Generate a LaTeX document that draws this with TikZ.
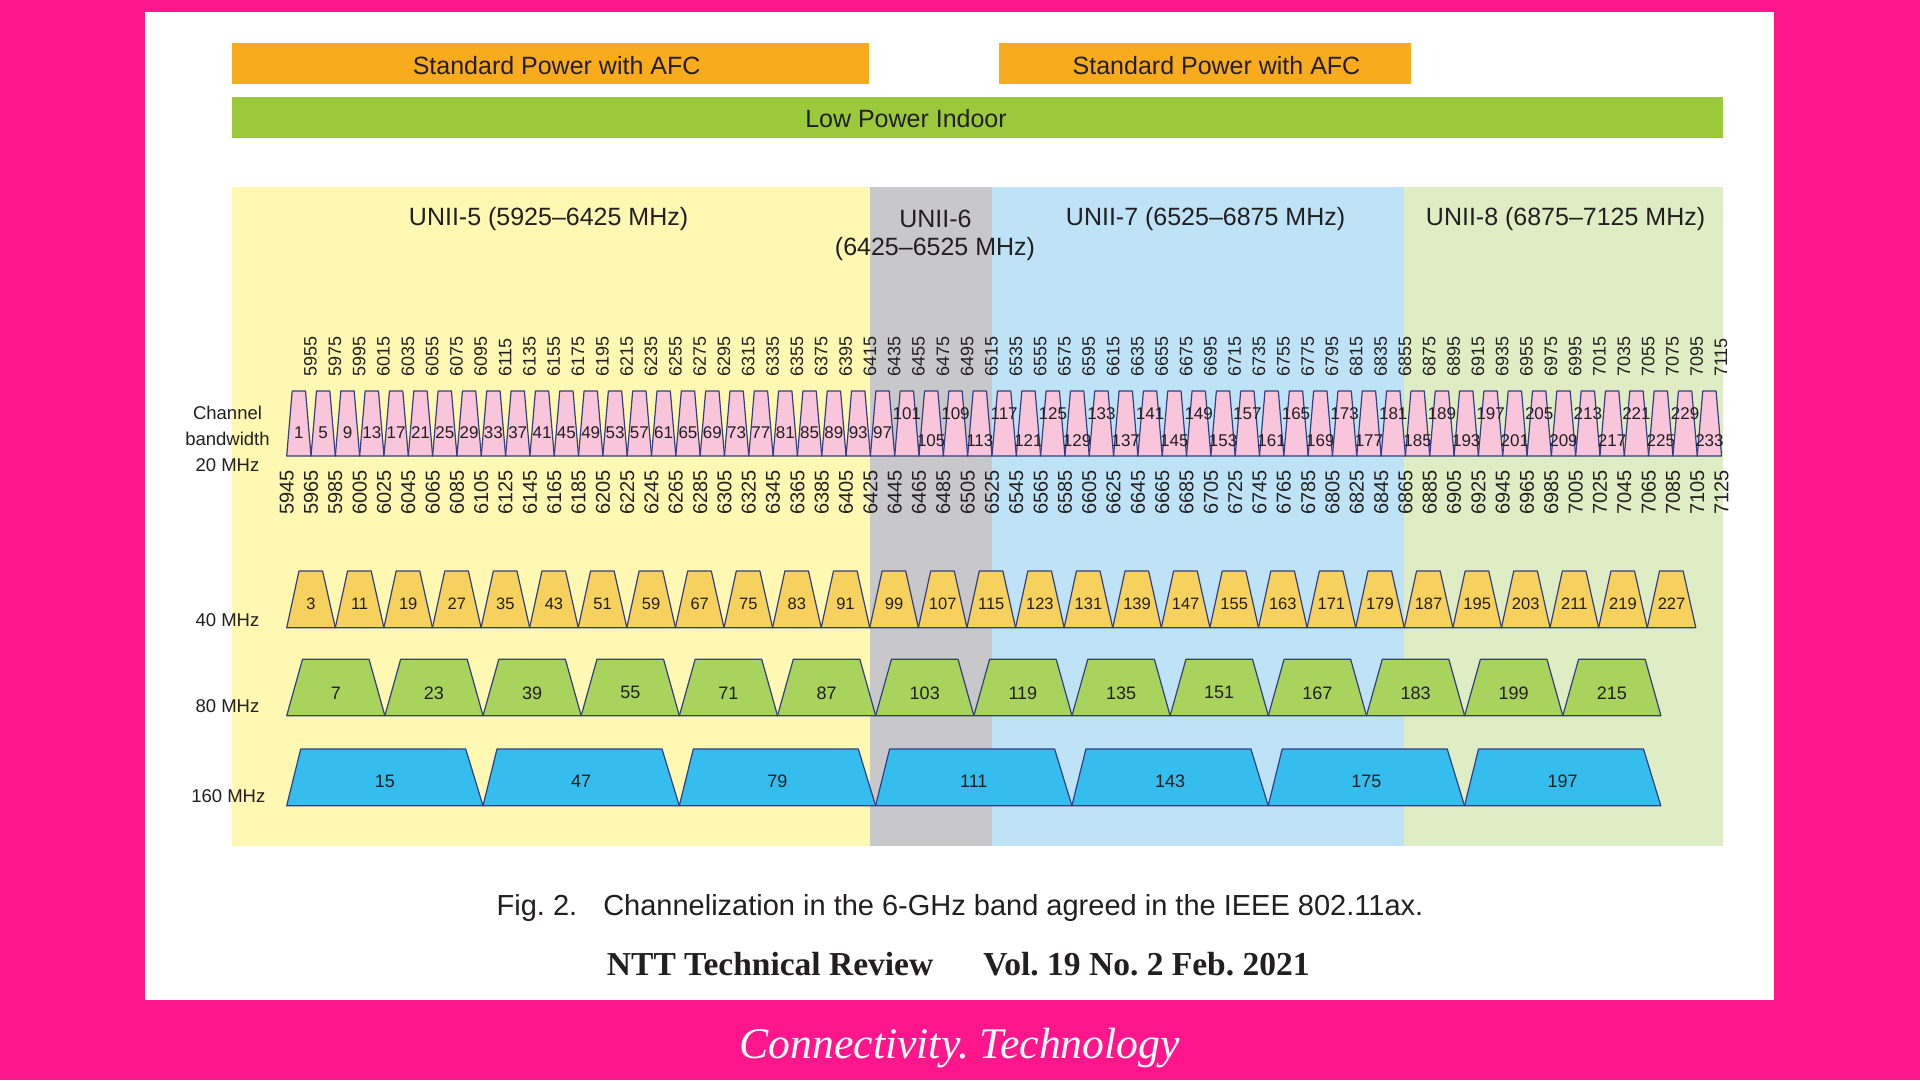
\documentclass[tikz,border=0pt]{standalone}
\usepackage{fontspec}
\setmainfont{Liberation Sans}
\newfontfamily\timesf{Liberation Serif}
\frenchspacing
\definecolor{magbg}{RGB}{255,22,140}
\definecolor{txt}{RGB}{35,31,32}
\definecolor{orangebar}{RGB}{249,171,30}
\definecolor{greenbar}{RGB}{154,202,60}
\definecolor{bandfive}{RGB}{255,248,178}
\definecolor{bandsix}{RGB}{200,200,202}
\definecolor{bandseven}{RGB}{190,227,247}
\definecolor{bandeight}{RGB}{222,237,196}
\definecolor{pinkch}{RGB}{248,197,218}
\definecolor{goldch}{RGB}{246,209,94}
\definecolor{limech}{RGB}{168,211,92}
\definecolor{cyanch}{RGB}{53,189,237}
\definecolor{edgec}{RGB}{52,62,130}
\newcommand\fsz[2]{\fontsize{#1}{#2}\selectfont\frenchspacing}
\tikzset{
  chtwenty/.style={fill=pinkch, draw=edgec, line width=1.2pt, line join=round},
  chforty/.style={fill=goldch, draw=edgec, line width=1.2pt, line join=round},
  cheighty/.style={fill=limech, draw=edgec, line width=1.2pt, line join=round},
  chonesixty/.style={fill=cyanch, draw=edgec, line width=1.2pt, line join=round},
  bigtxt/.style={font=\fsz{25}{28}},
  sidelbl/.style={font=\fsz{18.5}{25.8}, align=center},
}
\begin{document}
\begin{tikzpicture}[x=1pt,y=-1pt, every node/.style={inner sep=0pt, text=txt}]
\useasboundingbox (0,0) rectangle (1920,1080);
\fill[magbg] (0,0) rectangle (1920,1080);
\fill[white] (145,12) rectangle (1774,1000);

% power bars
\fill[orangebar] (232,43.3) rectangle (869,84.3);
\fill[orangebar] (999,43.3) rectangle (1411,84.3);
\fill[greenbar] (232,96.7) rectangle (1723,138.3);
\node[bigtxt, anchor=base] (sp1) at (556.6,74.3) {Standard Power with AFC};
\node[bigtxt, anchor=base] (sp2) at (1216.5,74.3) {Standard Power with AFC};
\node[bigtxt, anchor=base] (lpi) at (906,127.5) {Low Power Indoor};

% UNII bands
\fill[bandfive] (231.5,187) rectangle (869.5,846);
\fill[bandsix] (869.5,187) rectangle (992,846);
\fill[bandseven] (992,187) rectangle (1403.5,846);
\fill[bandeight] (1403.5,187) rectangle (1723,846);
\node[bigtxt, anchor=base] (u5) at (548.6,225) {UNII-5 (5925–6425 MHz)};
\node[bigtxt, anchor=base] (u6a) at (935.5,227.3) {UNII-6};
\node[bigtxt, anchor=base] (u6b) at (935,255) {(6425–6525 MHz)};
\node[bigtxt, anchor=base] (u7) at (1205.6,225) {UNII-7 (6525–6875 MHz)};
\node[bigtxt, anchor=base] (u8) at (1565.6,225) {UNII-8 (6875–7125 MHz)};

% side labels
\node[sidelbl] (bw20) at (227.5,439) {Channel\\bandwidth\\20 MHz};
\node[sidelbl, anchor=base] (bw40) at (227.5,626) {40 MHz};
\node[sidelbl, anchor=base] (bw80) at (227.5,712.7) {80 MHz};
\node[sidelbl, anchor=base] (bw160) at (228.3,802.3) {160 MHz};

% 20 MHz channels
\foreach \i in {0,...,58}{
  \pgfmathsetmacro\xa{286.7+\i*24.32}
  \pgfmathsetmacro\xb{\xa+24.32}
  \pgfmathtruncatemacro\ch{1+4*\i}
  \pgfmathtruncatemacro\ft{5955+20*\i}
  \pgfmathsetmacro\ly{\ch<=97 ? 432.5 : (mod(\i-25,2)==0 ? 413.5 : 441)}
  \filldraw[chtwenty] (\xa,456) -- (\xa+5.5,391) -- (\xb-5.5,391) -- (\xb,456) -- cycle;
  \node[font=\fsz{17}{20}] (c20-\ch) at ({(\xa+\xb)/2},\ly) {\ch};
  \node[font=\fsz{18}{20}, rotate=90, anchor=west] (ft-\i) at (\xb-0.5,377) {\ft};
}
\foreach \i in {0,...,59}{
  \pgfmathsetmacro\xa{286.7+\i*24.32}
  \pgfmathtruncatemacro\fb{5945+20*\i}
  \node[font=\fsz{20}{22}, rotate=90, anchor=east] (fb-\i) at (\xa,470) {\fb};
}

% 40 MHz channels
\foreach \i in {0,...,28}{
  \pgfmathsetmacro\xa{286.7+\i*48.59}
  \pgfmathsetmacro\xb{\xa+48.59}
  \pgfmathtruncatemacro\ch{3+8*\i}
  \filldraw[chforty] (\xa,627.7) -- (\xa+12.3,571) -- (\xb-12.7,571) -- (\xb,627.7) -- cycle;
  \node[font=\fsz{16.5}{20}] (c40-\ch) at ({(\xa+\xb)/2},603.8) {\ch};
}

% 80 MHz channels
\foreach \i in {0,...,13}{
  \pgfmathsetmacro\xa{286.7+\i*98.16}
  \pgfmathsetmacro\xb{\xa+98.16}
  \pgfmathtruncatemacro\ch{7+16*\i}
  \filldraw[cheighty] (\xa,715.7) -- (\xa+15.8,659.3) -- (\xb-15.8,659.3) -- (\xb,715.7) -- cycle;
  \node[font=\fsz{18}{20}] (c80-\ch) at ({(\xa+\xb)/2},692.8) {\ch};
}

% 160 MHz channels (labels as printed)
\foreach \lbl [count=\k from 0] in {15,47,79,111,143,175,197}{
  \pgfmathsetmacro\xa{286.7+\k*196.3}
  \pgfmathsetmacro\xb{\xa+196.3}
  \filldraw[chonesixty] (\xa,805.7) -- (\xa+14,749) -- (\xb-17.3,749) -- (\xb,805.7) -- cycle;
  \node[font=\fsz{18}{20}] (c160-\k) at ({(\xa+\xb)/2},781) {\lbl};
}

% captions
\node[font=\fsz{29}{31}, anchor=base] (cap) at (960,915) {Fig. 2.\hspace{26pt}Channelization in the 6-GHz band agreed in the IEEE 802.11ax.};
\node[font=\timesf\bfseries\fsz{33.5}{36}, anchor=base] (ntt) at (958.3,975) {NTT Technical Review\hspace{50pt}Vol. 19 No. 2 Feb. 2021};
\node[font=\timesf\itshape\fsz{43.7}{46}, text=white, anchor=base] (brand) at (959.7,1058.3) {Connectivity. Technology};
\end{tikzpicture}
\end{document}
